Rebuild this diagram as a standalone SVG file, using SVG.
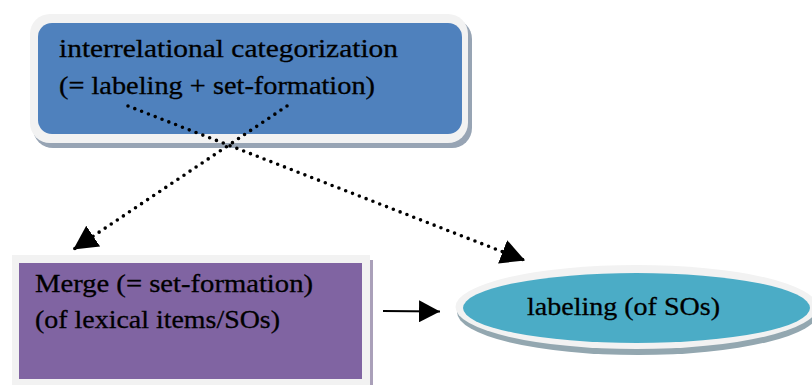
<svg xmlns="http://www.w3.org/2000/svg" width="812" height="385" viewBox="0 0 812 385">
  <style>
    .lbl { font-family: 'Liberation Serif', 'Times New Roman', serif; font-size: 26px; fill: #000; stroke: #000; stroke-width: 0.3; }
    .dots { fill: none; stroke: #000; stroke-width: 3.6; stroke-linecap: round; stroke-dasharray: 0 7.3; }
    .solid { fill: none; stroke: #000; stroke-width: 2; }
    .rim { fill: #f2f2f2; }
  </style>
  <defs>
    <marker id="bigHead" markerUnits="userSpaceOnUse" markerWidth="24" markerHeight="25" refX="24" refY="12.5" orient="auto" viewBox="0 0 24 25">
      <path d="M0,0 L24,12.5 L0,25 z" fill="#000"/>
    </marker>
    <marker id="smallHead" markerUnits="userSpaceOnUse" markerWidth="21" markerHeight="22" refX="21" refY="11" orient="auto" viewBox="0 0 21 22">
      <path d="M0,0 L21,11 L0,22 z" fill="#000"/>
    </marker>
  </defs>

  <rect width="812" height="385" fill="#ffffff"/>

  <!-- interrelational categorization -->
  <g id="categorization">
    <rect x="33" y="19" width="439" height="129" rx="20" fill="#97a4b4"/>
    <rect class="rim" x="30" y="14" width="438" height="129" rx="20"/>
    <rect x="38" y="23" width="424" height="111" rx="14" fill="#4f81bd"/>
    <text class="lbl" x="59" y="57" textLength="339" lengthAdjust="spacingAndGlyphs">interrelational categorization</text>
    <text class="lbl" x="59" y="93.5" textLength="316" lengthAdjust="spacingAndGlyphs">(= labeling + set-formation)</text>
  </g>

  <!-- Merge -->
  <g id="merge">
    <rect x="15" y="260" width="358" height="125" fill="#aaa0b9"/>
    <rect class="rim" x="12" y="255" width="358" height="130"/>
    <rect x="19" y="263" width="343" height="116" fill="#8064a2"/>
    <text class="lbl" x="35" y="292" textLength="278" lengthAdjust="spacingAndGlyphs">Merge (= set-formation)</text>
    <text class="lbl" x="35" y="328" textLength="245" lengthAdjust="spacingAndGlyphs">(of lexical items/SOs)</text>
  </g>

  <!-- labeling -->
  <g id="labeling">
    <ellipse cx="638" cy="312" rx="181" ry="43" fill="#93a7b0"/>
    <ellipse class="rim" cx="636.5" cy="307" rx="181" ry="42"/>
    <ellipse cx="636.5" cy="308" rx="173.5" ry="35" fill="#4bacc6"/>
    <text class="lbl" x="527" y="315" textLength="193" lengthAdjust="spacingAndGlyphs">labeling (of SOs)</text>
  </g>

  <!-- connectors -->
  <g id="connectors">
    <line class="dots" x1="128" y1="106" x2="525" y2="260.5" marker-end="url(#bigHead)"/>
    <line class="dots" x1="287" y1="106" x2="73.3" y2="249.5" marker-end="url(#bigHead)"/>
    <line class="solid" x1="383" y1="311" x2="440" y2="311.5" marker-end="url(#smallHead)"/>
  </g>
</svg>
